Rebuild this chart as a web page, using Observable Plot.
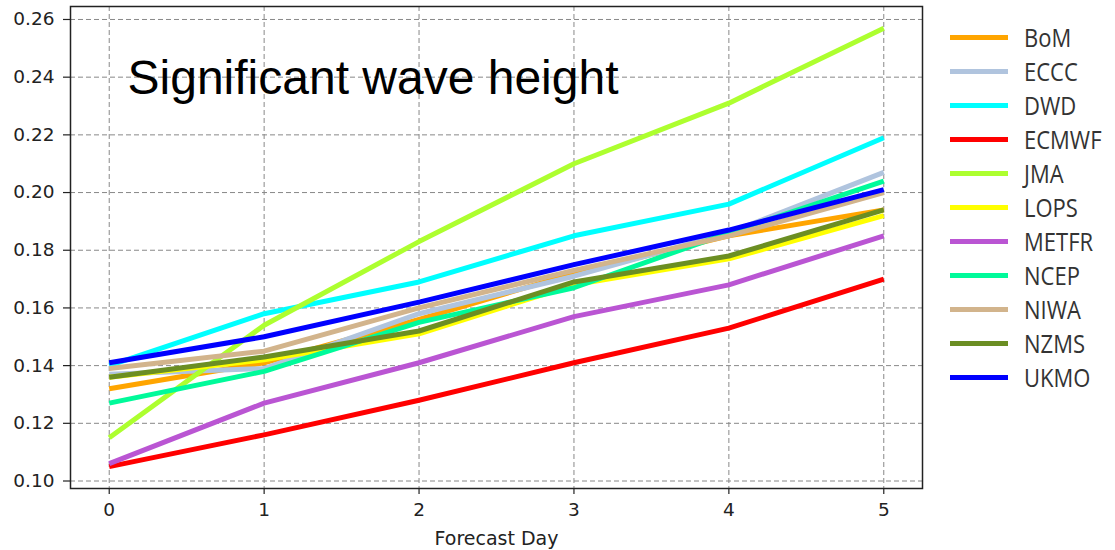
<!DOCTYPE html>
<html>
<head>
<meta charset="utf-8">
<script src="https://cdn.jsdelivr.net/npm/d3@7"></script>
<script src="https://cdn.jsdelivr.net/npm/@observablehq/plot@0.6"></script>
<style>
  html, body { margin: 0; padding: 0; background: #fff; }
  #wrap { position: relative; width: 1115px; height: 550px; overflow: hidden; }
  #legend { position: absolute; left: 950px; top: 0; font-family: "Open Sans", sans-serif; font-size: 22px; color: #333; }
  .row { position: absolute; left: 0; height: 34px; width: 165px; }
  .swatch { position: absolute; left: 0; width: 58px; height: 5px; }
  .lab { position: absolute; left: 74px; white-space: nowrap; line-height: 1; transform: scaleY(1.16); transform-origin: left center; }
</style>
</head>
<body>
<div id="wrap"><div id="legend"></div></div>
<script>
const days = [0, 1, 2, 3, 4, 5];
const models = ["BoM", "ECCC", "DWD", "ECMWF", "JMA", "LOPS", "METFR", "NCEP", "NIWA", "NZMS", "UKMO"];
const colors = ["#ffa500", "#b0c4de", "#00ffff", "#ff0000", "#adff2f", "#ffff00", "#ba55d3", "#00fa9a", "#d2b48c", "#6b8e23", "#0000ff"];
const BoM   = [0.132, 0.141, 0.156, 0.172, 0.185, 0.194];
const ECCC  = [0.137, 0.139, 0.158, 0.171, 0.186, 0.207];
const DWD   = [0.140, 0.158, 0.169, 0.185, 0.196, 0.219];
const ECMWF = [0.105, 0.116, 0.128, 0.141, 0.153, 0.170];
const JMA   = [0.115, 0.154, 0.183, 0.210, 0.231, 0.257];
const LOPS  = [0.136, 0.142, 0.151, 0.168, 0.177, 0.192];
const METFR = [0.106, 0.127, 0.141, 0.157, 0.168, 0.185];
const NCEP  = [0.127, 0.138, 0.155, 0.167, 0.186, 0.204];
const NIWA  = [0.139, 0.145, 0.160, 0.173, 0.185, 0.200];
const NZMS  = [0.136, 0.143, 0.152, 0.169, 0.178, 0.194];
const UKMO  = [0.141, 0.150, 0.162, 0.175, 0.187, 0.201];
const yTicks = [0.10, 0.12, 0.14, 0.16, 0.18, 0.20, 0.22, 0.24, 0.26];
const xTicks = [0, 1, 2, 3, 4, 5];
const title = "Significant wave height";
const xLabel = "Forecast Day";

const series = {BoM, ECCC, DWD, ECMWF, JMA, LOPS, METFR, NCEP, NIWA, NZMS, UKMO};
const rows = [];
models.forEach((m, i) => days.forEach((d, j) => rows.push({model: m, order: i, day: d, value: series[m][j]})));

const lineMarks = models.map((m, i) => Plot.line(rows.filter(r => r.model === m), {
  x: "day", y: "value", stroke: colors[i], strokeWidth: 5, strokeLinejoin: "round", strokeLinecap: "butt"
}));
const dotMarks = models.map((m, i) => Plot.dot(rows.filter(r => r.model === m), {
  x: "day", y: "value", symbol: "plus", r: 3.5, fill: colors[i], stroke: "none"
}));

const chart = Plot.plot({
  width: 1115,
  height: 550,
  marginLeft: 70,
  marginRight: 193,
  marginTop: 6,
  marginBottom: 62,
  style: {fontFamily: "DejaVu Sans", fontSize: "18px", color: "#222", background: "transparent"},
  x: {domain: [-0.25, 5.25]},
  y: {domain: [0.0974, 0.2645]},
  marks: [
    Plot.gridX(xTicks, {stroke: "#888", strokeOpacity: 1, strokeWidth: 1, strokeDasharray: "5,3"}),
    Plot.gridY(yTicks, {stroke: "#888", strokeOpacity: 1, strokeWidth: 1, strokeDasharray: "5,3"}),
    ...lineMarks,
    ...dotMarks,
    Plot.axisX(xTicks, {tickSize: 6, tickPadding: 8, tickFormat: d3.format("d"), fontSize: 18.5, stroke: "#222", strokeWidth: 1.2,
      label: null}),
    Plot.axisX({label: xLabel, labelAnchor: "center", labelArrow: "none", labelOffset: 56, ticks: [], tickSize: 0, fontSize: 19}),
    Plot.axisY(yTicks, {tickSize: 7, tickPadding: 9, tickFormat: d3.format(".2f"), fontSize: 18.5, stroke: "#222", strokeWidth: 1.2, label: null}),
    Plot.frame({stroke: "#222", strokeWidth: 1.5}),
    Plot.text([title], {frameAnchor: "top-left", textAnchor: "start", lineAnchor: "middle", dx: 57, dy: 72,
      fontFamily: "Liberation Sans, Arial, sans-serif", fontSize: 48, fill: "#000", text: d => d})
  ]
});
document.getElementById("wrap").prepend(chart);

const legend = document.getElementById("legend");
models.forEach((m, i) => {
  const row = document.createElement("div");
  row.className = "row";
  row.style.top = (37.5 + i * 34 - 17) + "px";
  const sw = document.createElement("div");
  sw.className = "swatch";
  sw.style.background = colors[i];
  sw.style.top = "14.5px";
  const lab = document.createElement("div");
  lab.className = "lab";
  lab.style.top = "5px";
  lab.textContent = m;
  row.appendChild(sw);
  row.appendChild(lab);
  legend.appendChild(row);
});
</script>
</body>
</html>
